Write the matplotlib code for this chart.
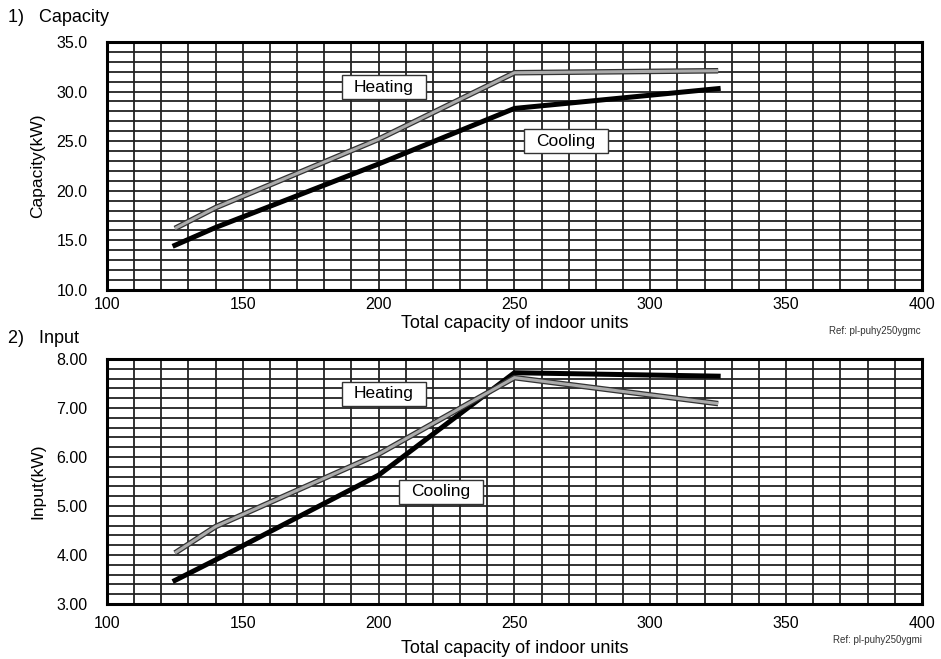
import matplotlib
matplotlib.use("Agg")
import matplotlib.pyplot as plt
import numpy as np
from matplotlib.ticker import MultipleLocator
from matplotlib.patches import Rectangle

plt.rcParams["font.family"] = ["Liberation Sans", "DejaVu Sans"]

# -----------------------
# Data
# -----------------------
indoor_cap = [125, 140, 200, 250, 325]

cap_cooling = [14.5, 16.3, 22.7, 28.3, 30.3]
cap_heating = [16.2, 18.3, 25.2, 31.9, 32.1]

inp_cooling = [3.48, 3.90, 5.63, 7.72, 7.65]
inp_heating = [4.04, 4.58, 6.06, 7.62, 7.09]

x_ticks = [100, 150, 200, 250, 300, 350, 400]
cap_ticks = [10.0, 15.0, 20.0, 25.0, 30.0, 35.0]
inp_ticks = [3.0, 4.0, 5.0, 6.0, 7.0, 8.0]

fig = plt.figure(figsize=(9.41, 6.59), dpi=100)
ax1 = fig.add_axes([0.1137, 0.560, 0.866, 0.3763])
ax2 = fig.add_axes([0.1137, 0.0835, 0.866, 0.3717])


def draw_heating(ax, x, y):
    # grey line with a dark outline
    ax.plot(x, y, color="#333333", lw=4.0, solid_capstyle="butt", zorder=3)
    ax.plot(x, y, color="#ababab", lw=2.2, solid_capstyle="butt", zorder=4)


def style_axes(ax, yticks, ystep, fmt, xpad, lpad):
    ax.set_xlim(100, 400)
    ax.set_ylim(yticks[0], yticks[-1])
    ax.set_xticks(x_ticks)
    ax.set_yticks(yticks)
    ax.set_yticklabels([fmt.format(v) for v in yticks])
    ax.xaxis.set_minor_locator(MultipleLocator(10))
    ax.yaxis.set_minor_locator(MultipleLocator(ystep))
    ax.grid(which="both", color="#222222", lw=1.3, zorder=1)
    ax.set_axisbelow(True)
    ax.tick_params(which="both", length=0)
    ax.tick_params(axis="y", pad=14, labelsize=11.5)
    ax.tick_params(axis="x", pad=xpad, labelsize=11.5)
    for s in ax.spines.values():
        s.set_linewidth(2.2)
        s.set_color("black")
    ax.set_xlabel("Total capacity of indoor units", fontsize=13, labelpad=lpad)


def box_label(ax, x, y, text, w_px=84, h_px=24):
    # fixed-size white box (pixel size converted to data units)
    x0, x1 = ax.get_xlim()
    y0, y1 = ax.get_ylim()
    w = w_px * (x1 - x0) / ax.bbox.width
    h = h_px * (y1 - y0) / ax.bbox.height
    ax.add_patch(Rectangle((x - w / 2, y - h / 2), w, h, fc="white",
                           ec="#333333", lw=1.0, zorder=5))
    ax.text(x, y, text, ha="center", va="center", fontsize=12.5, zorder=6)


# Capacity
ax1.plot(indoor_cap, cap_cooling, color="black", lw=3.6, zorder=3)
draw_heating(ax1, indoor_cap, cap_heating)
style_axes(ax1, cap_ticks, 1.0, "{:.1f}", 5, 2)
ax1.set_ylabel("Capacity(kW)", fontsize=12.5, labelpad=8)
box_label(ax1, 202, 30.45, "Heating")
box_label(ax1, 269, 25.0, "Cooling")

# Input
ax2.plot(indoor_cap, inp_cooling, color="black", lw=3.6, zorder=3)
draw_heating(ax2, indoor_cap, inp_heating)
style_axes(ax2, inp_ticks, 0.2, "{:.2f}", 9, 6)
ax2.set_ylabel("Input(kW)", fontsize=12.5, labelpad=8)
box_label(ax2, 202, 7.29, "Heating")
box_label(ax2, 223, 5.29, "Cooling")

fig.text(0.009, 0.974, "1)   Capacity", fontsize=13, va="center")
fig.text(0.009, 0.487, "2)   Input", fontsize=13, va="center")
fig.text(0.978, 0.497, "Ref: pl-puhy250ygmc", fontsize=7, ha="right", va="center", color="#333333")
fig.text(0.980, 0.029, "Ref: pl-puhy250ygmi", fontsize=7, ha="right", va="center", color="#333333")

fig.savefig("out.png", dpi=100)
